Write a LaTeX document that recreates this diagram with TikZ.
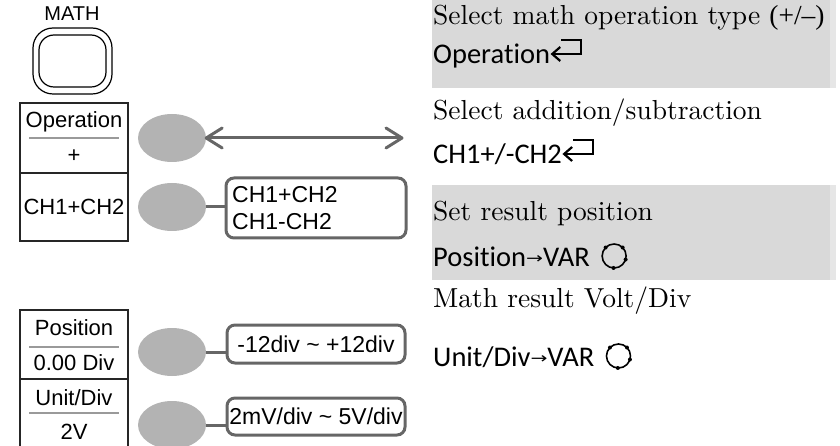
\documentclass[tikz,border=0pt]{standalone}
\usepackage{fontspec}
\setsansfont{Liberation Sans}
\newfontfamily\carl{Carlito}[Ligatures=NoCommon]
\newfontfamily\dejavu{DejaVu Sans}
\newfontfamily\serifx{lmroman10-regular}[Extension=.otf]
\newfontfamily\libserif{Liberation Serif}
\usetikzlibrary{arrows.meta,calc,shapes.geometric}
\definecolor{bandgray}{HTML}{D9D9D9}
\definecolor{stripgray}{HTML}{E6E6E6}
\definecolor{ellgray}{HTML}{B3B3B3}
\definecolor{linegray}{HTML}{666666}
\definecolor{divgray}{HTML}{9A9A9A}
\newcommand{\varrow}{{\dejavu\fontsize{15}{18}\selectfont\raisebox{2.5pt}{\scalebox{1.35}[1]{→}}}}
\begin{document}
\begin{tikzpicture}[x=1pt,y=-1pt,
  lbl/.style={font=\sffamily\fontsize{22}{26}\selectfont, inner sep=0pt},
  rng/.style={font=\sffamily\fontsize{23}{27}\selectfont, inner sep=0pt},
  menubox/.style={draw=black!85, line width=1.5pt},
  divline/.style={draw=divgray, line width=1.5pt},
  softkey/.style={ellipse, fill=ellgray, minimum width=68pt, minimum height=48pt, inner sep=0pt},
  rangebox/.style={draw=linegray, line width=3pt, rounded corners=8pt},
  conn/.style={draw=linegray, line width=3pt},
  chevron/.style={draw=linegray, line width=3pt, line cap=round, line join=round},
  desc/.style={font=\serifx\fontsize{27.5}{32}\selectfont, anchor=base west, inner sep=0pt},
  keyname/.style={font=\carl\fontsize{28.5}{33}\selectfont, anchor=base west, inner sep=0pt},
  retsym/.style={draw=black, line width=2.2pt},
  knob/.style={draw=black, line width=1.6pt}
]
\useasboundingbox (0,0) rectangle (840,446);

% background bands on the right
\fill[bandgray] (432,0) rectangle (830,88);
\fill[stripgray] (830,0) rectangle (836,88);
\fill[bandgray] (432,185) rectangle (830,280);
\fill[stripgray] (830,185) rectangle (836,280);

% MATH button
\node[font=\sffamily\fontsize{20}{24}\selectfont, inner sep=0pt] (mathlbl) at (72,14) {MATH};
\draw[line width=1.2pt, rounded corners=20pt] (33,28) rectangle (112,94);
\draw[line width=1.2pt, rounded corners=15pt] (39,35) rectangle (106,87);

% Operation menu box
\draw[menubox] (20,103) rectangle (128,241);
\draw[menubox] (20,173) -- (128,173);
\draw[divline] (29,138) -- (119,138);
\node[lbl] (opname) at (74,122) {Operation};
\node[lbl] (opval) at (74,156) {+};
\node[lbl] (chval) at (74,207) {CH1+CH2};

% Position / Unit menu box
\draw[menubox] (20,446) -- (20,310) -- (128,310) -- (128,446);
\draw[menubox] (20,379) -- (128,379);
\draw[divline] (29,347) -- (119,347);
\draw[divline] (29,413) -- (119,413);
\node[lbl] (posname) at (74,328) {Position};
\node[lbl] (posval) at (74,363) {0.00 Div};
\node[lbl] (unitname) at (74,398) {Unit/Div};
\node[lbl] (unitval) at (74,432) {2V};

% soft keys
\node[softkey] (k1) at (172,138) {};
\node[softkey] (k2) at (172,207) {};
\node[softkey] (k3) at (172,352) {};
\node[softkey] (k4) at (172,425) {};

% double arrow
\coordinate (arrend) at (402,138);
\draw[conn] (k1.east) -- (arrend);
\draw[chevron] ($(k1.east)+(16,-10)$) -- (k1.east) -- ($(k1.east)+(16,10)$);
\draw[chevron] ($(arrend)+(-16,-10)$) -- (arrend) -- ($(arrend)+(-16,10)$);

% range boxes
\draw[rangebox] (226,178) rectangle (406,238);
\node[rng, anchor=west] (c1) at (232,195) {CH1+CH2};
\node[rng, anchor=west] (c2) at (232,222) {CH1-CH2};
\coordinate (b2w) at (226,207);
\draw[conn] (k2.east) -- (b2w);

\draw[rangebox] (227,325) rectangle (405,363);
\node[rng] (r3) at (316,344) {-12div \textasciitilde\ +12div};
\coordinate (b3w) at (227,352);
\draw[conn] (k3.east) -- (b3w);

\draw[rangebox] (227,398) rectangle (405,435);
\node[rng] (r4) at (316,416) {2mV/div \textasciitilde\ 5V/div};
\coordinate (b4w) at (227,425);
\draw[conn] (k4.east) -- (b4w);

% right-hand descriptions
\node[desc] (t1) at (433,25) {Select math operation type {\libserif(+/–)}};
\node[keyname] (t2) at (433,64) {Operation};
\node[desc] (t3) at (433,120) {Select addition/subtraction};
\node[keyname] (t4) at (433,164) {CH1+/-CH2};
\node[desc] (t5) at (433,221) {Set result position};
\node[keyname] (t6) at (433,266) {Position\varrow VAR};
\node[desc] (t7) at (433,307) {Math result Volt/Div};
\node[keyname] (t8) at (433,366) {Unit/Div\varrow VAR};

% return symbols
\foreach \t in {t2,t4}{
  \draw[retsym, line join=miter] ($(\t.base east)+(2,-10)$) -- ($(\t.base east)+(31,-10)$) -- ($(\t.base east)+(31,-24)$) -- ($(\t.base east)+(11,-24)$);
  \draw[retsym, line join=miter] ($(\t.base east)+(10,-17)$) -- ($(\t.base east)+(2,-10)$) -- ($(\t.base east)+(10,-3)$);
}
% knobs
\foreach \t in {t6,t8}{
  \coordinate (kc) at ($(\t.base east)+(24,-10)$);
  \draw[knob] (kc) circle (12pt);
  \foreach \a in {135,45,-17,-93}{
    \fill ($(kc)+(\a:12pt)$) circle (2pt);
  }
}
\end{tikzpicture}
\end{document}
